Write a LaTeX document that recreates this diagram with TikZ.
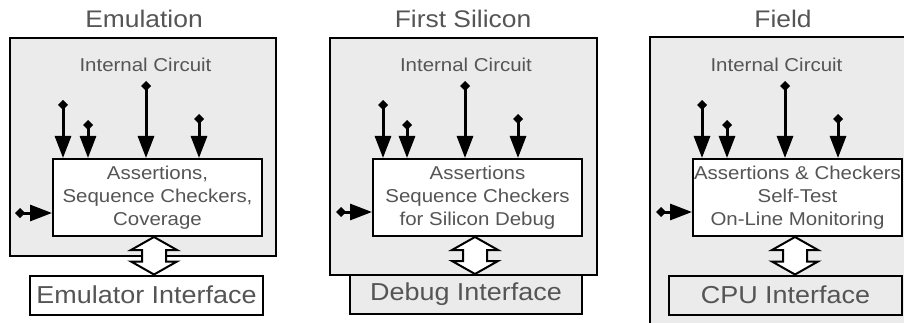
\documentclass[tikz,border=0pt]{standalone}
\usepackage{fontspec}
\setmainfont{Liberation Sans}[FakeStretch=1.1]
\usetikzlibrary{arrows.meta,calc}
\definecolor{txt}{HTML}{555555}
\definecolor{bg}{HTML}{EBEBEB}
\newcommand\dblarrow[3]{%
  \draw[blk] let \p1=(#1,0 |- #2.south), \p2=(#1,0 |- #3.north) in
    (\p1) -- ++(23pt,-13pt) -- ++(-11pt,0pt) -- (\x1+12pt,\y2+13pt) -- ++(11pt,0pt)
    -- (\p2) -- ++(-23pt,13pt) -- ++(11pt,0pt) -- (\x1-12pt,\y1-13pt) -- ++(-11pt,0pt) -- cycle;}
\begin{document}
\begin{tikzpicture}[x=1pt,y=-1pt,
  outer/.style={draw, line width=2.2pt, fill=bg},
  title/.style={anchor=base, text=txt, inner sep=0pt, font=\fontsize{24}{28}\selectfont},
  ic/.style={anchor=base, text=txt, inner sep=0pt, font=\fontsize{18.6}{23}\selectfont},
  chk/.style={draw, line width=2pt, fill=white, minimum width=209pt, minimum height=77pt,
    inner sep=0pt, align=center, text=txt, font=\fontsize{18.6}{23}\selectfont},
  iface/.style={draw, line width=2pt, minimum height=39pt, inner sep=0pt, text=txt,
    font=\fontsize{24.5}{28}\selectfont},
  sig/.style={line width=3pt, {Diamond[length=10pt,width=10pt]}-{Triangle[length=22pt,width=16pt]}},
  blk/.style={draw, fill=white, line width=2pt, line join=miter}]
\useasboundingbox (0,0) rectangle (904,323);
\clip (0,0) rectangle (904,323);

% ---------- Panel 1: Emulation
\node[title] (t1) at (144,28) {Emulation};
\draw[outer] (10,38) rectangle (276,256);
\node[ic] (ic1) at (145.5,72) {Internal Circuit};
\node[iface, fill=white, minimum width=233pt] (if1) at (146.5,295) {Emulator Interface};
\node[chk] (c1) at (157.5,197.5) {Assertions,\\Sequence Checkers,\\Coverage};
\draw[sig] (63,100) -- (63,100 |- c1.north);
\draw[sig] (88,120) -- (88,120 |- c1.north);
\draw[sig] (146,81) -- (146,81 |- c1.north);
\draw[sig] (199,114) -- (199,114 |- c1.north);
\draw[sig] (15,213) -- (15,213 -| c1.west);
\dblarrow{154}{c1}{if1}

% ---------- Panel 2: First Silicon
\node[title] (t2) at (463,28) {First Silicon};
\draw[outer] (330,38) rectangle (597,275);
\node[ic] (ic2) at (466,72) {Internal Circuit};
\node[iface, fill=bg, minimum width=232pt] (if2) at (466,294.5) {Debug Interface};
\node[chk] (c2) at (477.5,197.5) {Assertions\\Sequence Checkers\\for Silicon Debug};
\draw[sig] (383,100) -- (383,100 |- c2.north);
\draw[sig] (407,120) -- (407,120 |- c2.north);
\draw[sig] (465,81) -- (465,81 |- c2.north);
\draw[sig] (518,114) -- (518,114 |- c2.north);
\draw[sig] (336,212) -- (336,212 -| c2.west);
\dblarrow{475}{c2}{if2}

% ---------- Panel 3: Field
\node[title] (t3) at (783,28) {Field};
\draw[outer] (650,37) rectangle (930,345);
\node[ic] (ic3) at (776.5,72) {Internal Circuit};
\node[iface, fill=bg, minimum width=233pt] (if3) at (785.5,295) {CPU Interface};
\node[chk] (c3) at (797.5,197.5) {Assertions \& Checkers\\Self-Test\\On-Line Monitoring};
\draw[sig] (702,100) -- (702,100 |- c3.north);
\draw[sig] (727,120) -- (727,120 |- c3.north);
\draw[sig] (785,81) -- (785,81 |- c3.north);
\draw[sig] (838,114) -- (838,114 |- c3.north);
\draw[sig] (656,212) -- (656,212 -| c3.west);
\dblarrow{795}{c3}{if3}
\end{tikzpicture}
\end{document}
